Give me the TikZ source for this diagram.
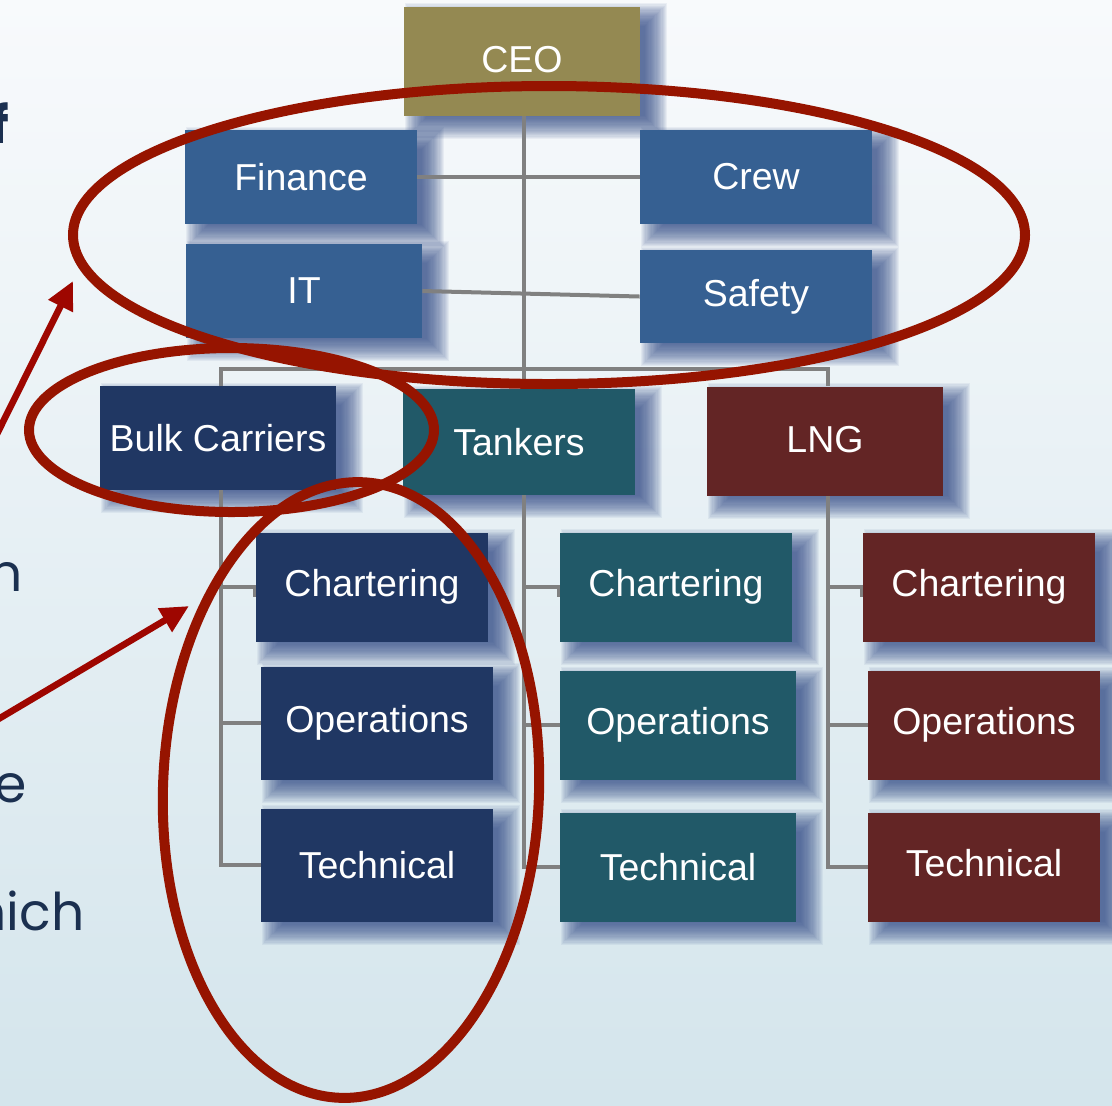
\documentclass[tikz,border=0pt]{standalone}
\usepackage{fontspec}
\setmainfont{Liberation Sans}
\newfontfamily\gothic{Poppins}
\usetikzlibrary{calc,arrows.meta}
\definecolor{ceoc}{RGB}{148,137,82}
\definecolor{bluec}{RGB}{54,96,146}
\definecolor{navyc}{RGB}{32,55,99}
\definecolor{tealc}{RGB}{33,89,104}
\definecolor{maroonc}{RGB}{99,37,37}
\definecolor{redc}{RGB}{150,20,0}
\definecolor{arrowc}{RGB}{158,6,0}
\definecolor{linec}{RGB}{128,128,128}
\definecolor{shadc}{RGB}{50,75,135}
\definecolor{txtc}{RGB}{27,48,80}
\definecolor{bgtop}{RGB}{248,250,252}
\definecolor{bgbot}{RGB}{212,229,236}
\pgfdeclarelayer{bglayer}
\pgfdeclarelayer{shlayer}
\pgfdeclarelayer{lnlayer}
\pgfdeclarelayer{fglayer}
\pgfsetlayers{bglayer,shlayer,lnlayer,main,fglayer}
\begin{document}
\begin{tikzpicture}[x=0.5pt,y=-0.5pt,
  box/.style={rectangle, inner sep=0pt, text=white, font=\fontsize{18.75}{22}\selectfont},
  wd/.style={minimum width=#1*0.5pt},
  ht/.style={minimum height=#1*0.5pt},
  conn/.style={draw=linec, line width=2pt},
  ring/.style={draw=redc, line width=5pt},
  pointer/.style={draw=arrowc, line width=3.3pt, -{Triangle[length=14pt,width=13pt]}},
  frag/.style={text=txtc, inner sep=0pt, font=\gothic\fontsize{26}{30}\selectfont}]
\useasboundingbox (0,0) rectangle (1112,1105);
\begin{pgfonlayer}{bglayer}
\shade[top color=bgtop, bottom color=bgbot] (0,0) rectangle (1112,1105);
\end{pgfonlayer}

% text fragments
\node[frag, anchor=base east] (t1) at (10,143) {\bfseries f};
\node[frag, anchor=base east] (t2) at (23,591) {n};
\node[frag, anchor=base east] (t3) at (27,802) {e};
\node[frag, anchor=base east] (t4) at (85,930) {nich};

% boxes
\node[box, fill=ceoc, wd=236, ht=109] (ceo) at (522,61) {\raisebox{2pt}{CEO}};
\node[box, fill=bluec, wd=232, ht=94] (fin) at (301,177) {Finance};
\node[box, fill=bluec, wd=232, ht=94] (crew) at (756,177) {Crew};
\node[box, fill=bluec, wd=236, ht=94] (it) at (304,291) {IT};
\node[box, fill=bluec, wd=232, ht=93] (safety) at (756,296.5) {\raisebox{3pt}{Safety}};
\node[box, fill=navyc, wd=236, ht=104] (bulk) at (218,438) {Bulk Carriers};
\node[box, fill=tealc, wd=232, ht=106] (tank) at (519,442) {Tankers};
\node[box, fill=maroonc, wd=236, ht=109] (lng) at (825,441) {\raisebox{2pt}{LNG}};
\node[box, fill=navyc, wd=232, ht=109] (bchart) at (372,587) {Chartering};
\node[box, fill=navyc, wd=232, ht=113] (bops) at (377,723) {Operations};
\node[box, fill=navyc, wd=232, ht=113] (btech) at (377,865) {Technical};
\node[box, fill=tealc, wd=232, ht=109] (tchart) at (676,587) {Chartering};
\node[box, fill=tealc, wd=236, ht=109] (tops) at (678,725) {Operations};
\node[box, fill=tealc, wd=236, ht=109] (ttech) at (678,867) {Technical};
\node[box, fill=maroonc, wd=232, ht=109] (lchart) at (979,587) {\raisebox{4.5pt}{Chartering}};
\node[box, fill=maroonc, wd=232, ht=109] (lops) at (984,725) {\raisebox{4.5pt}{Operations}};
\node[box, fill=maroonc, wd=232, ht=109] (ltech) at (984,867) {\raisebox{4pt}{Technical}};

% soft shadows
\begin{pgfonlayer}{shlayer}
\foreach \n in {ceo,fin,crew,it,safety,bulk,tank,lng,bchart,bops,btech,tchart,tops,ttech,lchart,lops,ltech}{
  \foreach \k in {0,...,19}{
    \pgfmathsetmacro{\ax}{1+1.2*\k}
    \pgfmathsetmacro{\ay}{-3+1.2*\k}
    \pgfmathsetmacro{\bx}{27-1.2*\k}
    \pgfmathsetmacro{\by}{23-1.2*\k}
    \fill[shadc, fill opacity=0.065] ($(\n.north west)+(\ax,\ay)$) rectangle ($(\n.south east)+(\bx,\by)$);
  }
}
\end{pgfonlayer}

% connectors
\coordinate (busL) at (221,369);
\coordinate (busM) at (524,369);
\coordinate (busR) at (828,369);
\begin{pgfonlayer}{lnlayer}
\draw[conn] (ceo.south -| busM) -- (busM |- tank.north);
\draw[conn] (busL |- bulk.north) -- (busL) -- (busR) -- (busR |- lng.north);
\draw[conn] (fin.east) -- (crew.west);
\draw[conn] (it.east) -- (safety.west);
% bulk
\draw[conn] (busL |- bulk.south) -- (busL |- btech.west) -- (btech.west);
\draw[conn] (busL |- bops.west) -- (bops.west);
\draw[conn] (busL |- bchart.west) -- ($(bchart.west)+(-1,0)$) -- ($(bchart.west)+(-1,10)$);
% tankers
\draw[conn] (busM |- tank.south) -- (busM |- ttech.west) -- (ttech.west);
\draw[conn] (busM |- tops.west) -- (tops.west);
\draw[conn] (busM |- tchart.west) -- ($(tchart.west)+(-1,0)$) -- ($(tchart.west)+(-1,10)$);
% lng
\draw[conn] (busR |- lng.south) -- (busR |- ltech.west) -- (ltech.west);
\draw[conn] (busR |- lops.west) -- (lops.west);
\draw[conn] (busR |- lchart.west) -- ($(lchart.west)+(-1,0)$) -- ($(lchart.west)+(-1,10)$);
\end{pgfonlayer}

% highlights
\coordinate (a1s) at (-10,448);
\coordinate (a1e) at (73,281);
\coordinate (a2s) at (-10,724);
\coordinate (a2e) at (189,606);
\begin{pgfonlayer}{fglayer}
\draw[ring] (549,235) ellipse [x radius=238pt, y radius=74.5pt];
\draw[ring] (231.5,430) ellipse [x radius=101.25pt, y radius=41pt];
\draw[ring, rotate around={-2:(351,790)}] (351,790) ellipse [x radius=94pt, y radius=154pt];
\draw[pointer] (a1s) -- (a1e);
\draw[pointer] (a2s) -- (a2e);
\end{pgfonlayer}
\end{tikzpicture}
\end{document}
